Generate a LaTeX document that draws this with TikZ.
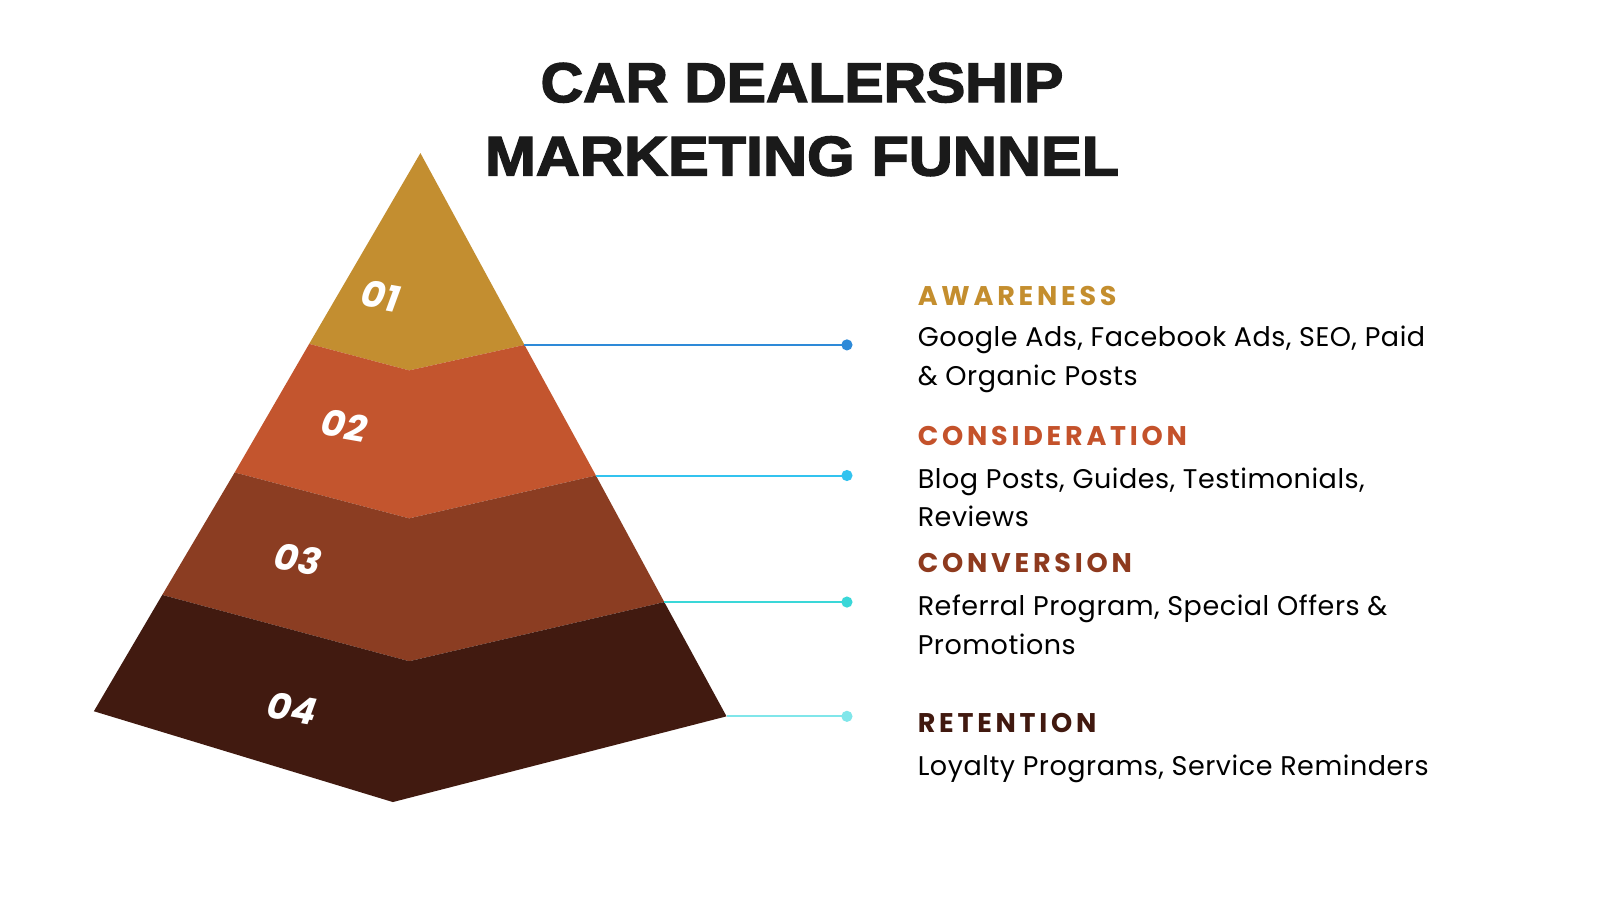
\documentclass[tikz,border=0pt]{standalone}
\usepackage{fontspec}
\setmainfont{Poppins}
\newfontfamily\titlefont{Liberation Sans Bold}[FakeBold=2.5]
\newfontfamily\numfont{Poppins}
\newfontfamily\bodyfont{Poppins}[LetterSpace=2]
\newfontfamily\headfont{Poppins}[LetterSpace=14]
\definecolor{lay1}{HTML}{C38E30}
\definecolor{lay2}{HTML}{C3552E}
\definecolor{lay3}{HTML}{8B3D22}
\definecolor{lay4}{HTML}{411A10}
\definecolor{hd1}{HTML}{C48E2E}
\definecolor{hd2}{HTML}{C4522B}
\definecolor{hd3}{HTML}{8E3A1E}
\definecolor{hd4}{HTML}{41190F}
\definecolor{ln1}{HTML}{2E8AD8}
\definecolor{ln2}{HTML}{33C3EF}
\definecolor{ln3}{HTML}{3AD7D8}
\definecolor{ln4}{HTML}{80E6EA}
\definecolor{ink}{HTML}{1A1A1A}
\tikzset{
  titletext/.style={anchor=base, inner sep=0pt, text=ink, font=\titlefont\fontsize{28}{30}\selectfont},
  numtext/.style={inner sep=0pt, text=white, rotate=-10, font=\numfont\bfseries\itshape\fontsize{18.5}{20}\selectfont},
  headtext/.style={anchor=base west, inner sep=0pt, font=\headfont\bfseries\fontsize{13.5}{15}\selectfont},
  bodytext/.style={anchor=base west, inner sep=0pt, text=black, font=\bodyfont\fontsize{13.5}{15}\selectfont},
  link/.style={line width=1pt},
  dotmark/.style={circle, inner sep=0pt, minimum size=5.6pt},
}
\begin{document}
\begin{tikzpicture}[x=0.5102pt, y=-0.5102pt]
\path[use as bounding box, fill=white] (0,0) rectangle (1568,882);
% pyramid points
\coordinate (A) at (412,150);
\coordinate (L1) at (303,337); \coordinate (M1) at (401,363); \coordinate (R1) at (514,338);
\coordinate (L2) at (230,463); \coordinate (M2) at (401,508); \coordinate (R2) at (584,466);
\coordinate (L3) at (159,583); \coordinate (M3) at (401,648); \coordinate (R3) at (651,590);
\coordinate (L4) at (92,697);  \coordinate (M4) at (385,786); \coordinate (R4) at (712,702);
\fill[lay1] (A) -- (R1) -- (M1) -- (L1) -- cycle;
\fill[lay2] (L1) -- (M1) -- (R1) -- (R2) -- (M2) -- (L2) -- cycle;
\fill[lay3] (L2) -- (M2) -- (R2) -- (R3) -- (M3) -- (L3) -- cycle;
\fill[lay4] (L3) -- (M3) -- (R3) -- (R4) -- (M4) -- (L4) -- cycle;
\node[numtext] (n1) at (373,290) {01};
\node[numtext] (n2) at (337,417) {02};
\node[numtext] (n3) at (292,548) {03};
\node[numtext] (n4) at (286,694) {04};
% connectors
\node[dotmark, fill=ln1] (d1) at (830,338) {};
\node[dotmark, fill=ln2] (d2) at (830,466) {};
\node[dotmark, fill=ln3] (d3) at (830,590) {};
\node[dotmark, fill=ln4] (d4) at (830,702) {};
\draw[link, ln1] (R1) -- (d1.center);
\draw[link, ln2] (R2) -- (d2.center);
\draw[link, ln3] (R3) -- (d3.center);
\draw[link, ln4] (R4) -- (d4.center);
% title
\node[titletext] (t1) at (786,100) {\scalebox{1.05}[1]{CAR DEALERSHIP}};
\node[titletext] (t2) at (786,172) {\scalebox{1.09}[1]{MARKETING FUNNEL}};
% texts
\node[headtext, text=hd1] (h1) at (899,299) {AWARENESS};
\node[bodytext] (b1a) at (899,340) {Google Ads, Facebook Ads, SEO, Paid};
\node[bodytext] (b1b) at (899,378) {\& Organic Posts};
\node[headtext, text=hd2] (h2) at (899,437) {CONSIDERATION};
\node[bodytext] (b2a) at (899,479) {Blog Posts, Guides, Testimonials,};
\node[bodytext] (b2b) at (899,516) {Reviews};
\node[headtext, text=hd3] (h3) at (899,561) {CONVERSION};
\node[bodytext] (b3a) at (899,603) {Referral Program, Special Offers \&};
\node[bodytext] (b3b) at (899,641) {Promotions};
\node[headtext, text=hd4] (h4) at (899,718) {RETENTION};
\node[bodytext] (b4a) at (899,760) {Loyalty Programs, Service Reminders};
\end{tikzpicture}
\end{document}
